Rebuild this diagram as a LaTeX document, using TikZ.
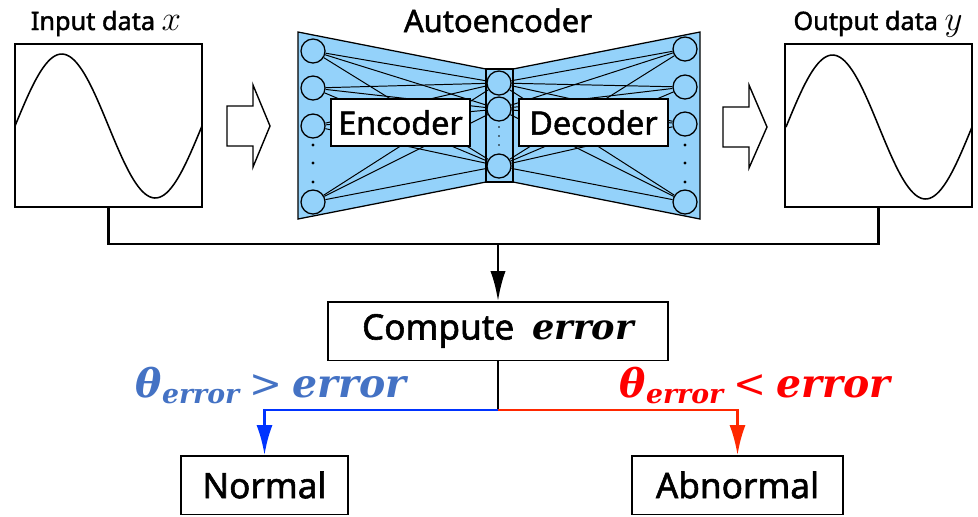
\documentclass[tikz,border=0pt]{standalone}
\usepackage{fontspec}
\setmainfont{Noto Sans}[BoldFont={Noto Sans}, BoldFeatures={FakeBold=1.6}]
\newfontfamily\errfont{DejaVu Serif}
\usepackage{amsmath}
\usepackage{tikz}
\usetikzlibrary{arrows.meta,positioning,calc}
\definecolor{aeblue}{RGB}{148,210,250}
\definecolor{lblblue}{RGB}{68,114,196}
\definecolor{lineblue}{RGB}{0,51,255}
\definecolor{linered}{RGB}{255,40,0}
\definecolor{lblred}{RGB}{255,0,0}
\newcommand{\errword}[1]{{\errfont\bfseries\itshape #1}}
\newcommand{\thetaerr}{\errword{θ}\raisebox{-0.32ex}{\fontsize{19}{20}\selectfont\errword{error}}}
\tikzset{
  neuron/.style={ draw, circle, fill=aeblue, line width=0.9pt, minimum size=0.6cm, inner sep=0pt }
}
\tikzset{
  wire/.style={ line width=0.7pt }
}
\tikzset{
  plotbox/.style={ draw, line width=1pt, minimum width=4.675cm, minimum height=4.075cm, inner sep=0pt }
}
\tikzset{
  partbox/.style={ draw, fill=white, line width=0.9pt, inner sep=0pt, font=\fontsize{23}{26}\selectfont\bfseries }
}
\tikzset{
  stagebox/.style={ draw, line width=1pt, minimum height=1.46cm, inner sep=0pt, font=\fontsize{25}{28}\selectfont }
}
\tikzset{
  hollow/.style={ draw, fill=white, line width=1pt }
}
\tikzset{
  link/.style={ line width=2pt, line cap=rect }
}

\begin{document}
\begin{tikzpicture}[x=0.025cm, y=-0.025cm]
      \useasboundingbox (0,0) rectangle (978,516);

      % input and output signals
      \node[plotbox] (inbox) at (108.5, 125.5) {};
      \node[plotbox] (outbox) at (878.5, 125.5) {};
      \draw[line width=1.1pt] plot[domain=0:360, samples=80, smooth] ({15+0.5194*\x}, {126-72*sin(\x)});
      \draw[line width=1.1pt] plot[domain=0:360, samples=80, smooth] ({786+0.5167*\x}, {127-72*sin(\x)});
      \node[font=\fontsize{18}{20}\selectfont\bfseries, anchor=base] (inlbl) at (106, 30) {Input data \fontsize{27}{28}\selectfont$x$};
      \node[font=\fontsize{18}{20}\selectfont\bfseries, anchor=base] (outlbl) at (878, 30) {Output data \fontsize{27}{28}\selectfont$y$};

      % hollow arrows
      \draw[hollow] (227,106) -- (253,106) -- (253,85) -- (270,126) -- (253,167) -- (253,146) -- (227,146) -- cycle;
      \draw[hollow] (723,107) -- (749,107) -- (749,85) -- (767,127) -- (749,168) -- (749,147) -- (723,147) -- cycle;

      % autoencoder body
      \node[font=\fontsize{22}{26}\selectfont\bfseries, anchor=base] (aelbl) at (498, 32) {Autoencoder};
      \draw[fill=aeblue, line width=0.9pt] (298,32) -- (486,69) -- (486,182) -- (298,219) -- cycle;
      \draw[fill=aeblue, line width=0.9pt] (700,32) -- (513,69) -- (513,182) -- (700,219) -- cycle;
      \draw[fill=aeblue, line width=0.9pt] (486,69) rectangle (513,182);

      \node[neuron] (L1) at (313, 51) {};
      \node[neuron] (L2) at (313, 88) {};
      \node[neuron] (L3) at (313, 126) {};
      \node[neuron] (L4) at (313, 202) {};
      \node[neuron] (M1) at (499, 83) {};
      \node[neuron] (M2) at (499, 109) {};
      \node[neuron] (M3) at (499, 166) {};
      \node[neuron] (R1) at (685, 49) {};
      \node[neuron] (R2) at (685, 87) {};
      \node[neuron] (R3) at (685, 124) {};
      \node[neuron] (R4) at (685, 202) {};
      \foreach \i in {1,...,4}
        \foreach \j in {1,2,3} {
          \draw[wire] (L\i) -- (M\j);
          \draw[wire] (M\j) -- (R\i);
        }
      \foreach \y in {145,163,182} {
        \fill (313,\y) circle (1.6);
        \fill (685,\y) circle (1.6);
      }
      \foreach \y in {127,136,145}
        \fill (499,\y) circle (0.8);

      \node[partbox, minimum width=3.475cm, minimum height=1.175cm] (enc) at (400.5, 122.5) {Encoder};
      \node[partbox, minimum width=3.725cm, minimum height=1.175cm] (dec) at (593.5, 122.5) {Decoder};

      % error and decision
      \node[stagebox, minimum width=8.5cm] (comp) at (498, 331) {{\bfseries Compute}\ \ \errword{error}};
      \node[stagebox, minimum width=4.175cm] (normal) at (264.5, 485) {\bfseries Normal};
      \node[stagebox, minimum width=5.275cm] (abnormal) at (737.5, 485) {\bfseries Abnormal};

      \coordinate (join) at (498, 244);
      \coordinate (fork) at (498, 410);
      \draw[link] (inbox.south) |- (join) -| (outbox.south);
      \draw[link, -{Latex[length=0.75cm, width=0.38cm]}] (join) -- (comp.north);
      \draw[line width=1.5pt] (comp.south) -- (fork);
      \draw[line width=2pt, lineblue, -{Latex[length=0.75cm, width=0.4cm]}] (fork) -| (normal.north);
      \draw[line width=2pt, linered, -{Latex[length=0.75cm, width=0.4cm]}] (fork) -| (abnormal.north);

      \node[lblblue, font=\fontsize{28}{32}\selectfont, anchor=base] (lowlbl) at (271, 397) {\thetaerr\ {\errfont >} \errword{error}};
      \node[lblred, font=\fontsize{28}{32}\selectfont, anchor=base] (highlbl) at (755, 397) {\thetaerr\ {\errfont <} \errword{error}};

    \end{tikzpicture}
\end{document}
